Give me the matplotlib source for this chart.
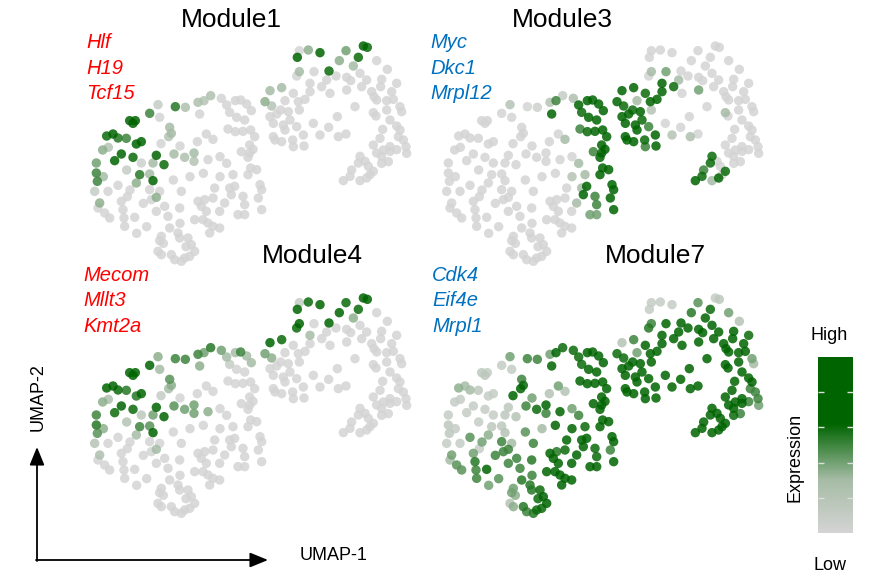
import numpy as np
import matplotlib
matplotlib.use('Agg')
import matplotlib.pyplot as plt
from matplotlib.colors import LinearSegmentedColormap, Normalize
from matplotlib.cm import ScalarMappable

plt.rcParams['font.family'] = ['Liberation Sans', 'DejaVu Sans']

# UMAP embedding of the cells (same layout in every panel)
umap_1 = [
    20.9, 23.4, 23.9, 28.6, 31.6, 35.4, 37.2, 39.2, 35.9, 42.4,
    44.0, 46.6, 48.2, 50.0, 51.4, 44.9, 47.0, 49.4, 14.9, 15.9,
    16.6, 26.9, 27.4, 26.6, 9.9, 8.0, 11.4, 13.9, 16.9, 18.4,
    37.9, 39.9, 44.4, 46.6, 48.9, 51.2, 35.2, 24.3, 30.0, 6.8,
    8.5, 12.4, 10.4, 4.9, 15.9, 22.9, 21.9, 25.2, 28.2, 31.4,
    34.2, 34.2, 38.4, 18.4, 4.9, 5.2, 4.4, 11.4, 17.9, 20.9,
    21.9, 16.9, 8.4, 20.9, 23.9, 22.9, 21.4, 5.9, 5.4, 7.4,
    8.9, 12.4, 14.2, 12.9, 13.2, 13.4, 16.4, 25.4, 26.4, 22.9,
    29.9, 30.4, 26.9, 24.4, 23.9, 23.4, 24.4, 29.4, 29.9, 32.4,
    33.4, 27.4, 28.4, 30.4, 31.4, 32.9, 34.4, 31.8, 35.4, 37.4,
    36.4, 34.4, 36.9, 38.4, 39.9, 41.9, 38.9, 37.9, 41.9, 43.4,
    45.4, 46.4, 45.9, 44.9, 40.4, 39.9, 48.9, 49.4, 47.4, 49.4,
    50.9, 51.2, 50.4, 53.0, 54.0, 54.5, 53.5, 54.5, 52.4, 50.9,
    51.9, 48.4, 50.4, 65.8, 68.5, 72.0, 65.2, 79.8, 85.0, 86.2,
    83.5, 77.8, 82.0, 89.0, 65.8, 65.0, 70.2, 74.7, 76.8, 80.0,
    81.2, 84.0, 92.2, 69.0, 72.5, 75.0, 80.0, 84.5, 90.5, 90.2,
    87.5, 88.2, 89.0, 93.5, 94.0, 92.0, 57.0, 60.5, 55.5, 57.5,
    61.5, 65.5, 67.5, 65.8, 82.5, 88.0, 88.8, 96.0, 96.5, 77.2,
    57.0, 59.0, 60.2, 63.0, 58.0, 61.0, 61.5, 74.6, 72.0, 77.5,
    79.8, 67.0, 90.8, 95.0, 58.0, 58.5, 60.5, 63.8, 64.0, 67.2,
    91.0, 93.0, 97.0, 97.8, 98.0, 84.0, 85.5, 83.5, 86.5, 89.0,
    90.5, 93.0, 95.0, 88.0, 87.0, 86.0, 84.0, 81.0, 79.0,
    74.0, 69.0, 86.0, 95.0, 92.0, 93.0, 96.0, 95.5, 90.0, 88.0,
    81.5, 90.5, 92.5, 64.0, 62.5, 65.0, 70.0, 14.0, 7.0, 15.0,
    19.0, 28.0, 33.0, 37.0, 42.0, 42.0, 44.0, 30.0, 20.0, 25.0,
    17.0,
]
umap_2 = [
    -25.0, -22.4, -26.2, -23.0, -23.2, -21.7, -21.2, -19.7, -25.2, -20.5,
    -22.5, -21.2, -21.0, -22.2, -24.2, -24.7, -26.2, -27.0, -27.2, -28.0,
    -27.2, -29.2, -31.0, -32.0, -31.2, -31.8, -32.4, -32.5, -34.2, -33.5,
    -31.2, -32.8, -29.7, -30.5, -30.4, -30.0, -33.5, -34.1, -34.8, -36.0,
    -35.2, -37.2, -39.2, -39.9, -38.2, -37.6, -39.9, -40.4, -37.2, -38.2,
    -36.9, -39.4, -38.9, -39.9, -42.9, -45.4, -48.4, -46.6, -43.4, -43.2,
    -45.2, -45.9, -48.4, -47.9, -48.4, -50.2, -50.9, -51.9, -53.4, -54.9,
    -56.4, -51.4, -50.0, -53.9, -56.4, -58.9, -56.2, -52.9, -55.9, -54.4,
    -53.4, -48.4, -59.4, -61.9, -63.2, -66.4, -67.4, -60.9, -62.4, -62.4,
    -64.4, -67.4, -68.9, -69.4, -68.4, -67.9, -66.4, -65.0, -51.4, -50.9,
    -52.9, -56.9, -56.9, -57.9, -58.9, -59.4, -60.9, -54.4, -54.4, -51.9,
    -49.4, -46.9, -43.4, -47.4, -47.4, -50.4, -49.9, -52.4, -55.4, -55.4,
    -36.9, -41.4, -43.4, -41.9, -46.4, -47.9, -50.4, -53.9, -32.0, -34.5,
    -35.8, -36.5, -38.2, -6.2, -6.0, -6.8, -8.2, -6.2, -4.8, -5.2,
    -8.2, -9.2, -10.8, -9.2, -12.5, -13.8, -12.5, -12.3, -13.8, -14.2,
    -15.2, -13.0, -11.8, -16.0, -17.0, -19.0, -18.0, -17.0, -14.8, -17.0,
    -18.5, -20.0, -21.0, -18.5, -20.8, -21.2, -18.2, -17.3, -21.5, -22.8,
    -21.2, -21.5, -20.8, -24.0, -23.0, -24.8, -25.8, -23.0, -24.5, -26.0,
    -26.0, -25.2, -24.0, -27.0, -28.0, -28.5, -30.0, -29.2, -31.5, -32.0,
    -31.2, -31.5, -29.8, -28.8, -32.0, -33.0, -33.5, -33.0, -35.0, -34.8,
    -36.0, -35.0, -33.0, -35.0, -37.0, -37.9, -39.4, -39.9, -40.9, -36.9,
    -37.9, -36.4, -35.9, -42.4, -43.4, -44.4, -45.2, -43.9, -45.2,
    -15.0, -18.5, -15.0, -16.0, -24.0, -27.0, -30.0, -32.0, -32.5, -34.5,
    -42.0, -40.0, -39.5, -19.0, -24.5, -29.0, -28.0, -42.0, -44.0, -48.0,
    -52.0, -45.0, -44.0, -43.0, -44.0, -38.0, -40.0, -58.0, -59.0, -64.0,
    -61.0,
]

# scaled module expression per cell (0 = low, 1 = high)
module1 = [
    .5, .1, 0, .55, .25, .25, .2, .25, 0, 0,
    0, 0, 0, 0, 0, 0, 0, 0, 1, 1,
    .9, .3, .3, .2, 1, .6, .55, .5, 1, .95,
    0, 0, 0, 0, 0, 0, 0, 0, 0, .35,
    .2, 1, .9, .4, .6, 1, .3, .6, .3, .25,
    .3, .2, 0, .05, .5, .5, .1, 0, .55, .3,
    .8, .35, 0, 0, 0, .35, 0, .35, 0, 0,
    0, 0, 0, 0, 0, 0, 0, 0, 0, 0,
    0, 0, 0, 0, 0, 0, 0, 0, 0, 0,
    0, 0, 0, 0, 0, 0, 0, 0, 0, 0,
    0, 0, 0, 0, 0, 0, 0, 0, 0, 0,
    0, 0, 0, 0, 0, 0, 0, 0, 0, 0,
    0, 0, 0, 0, 0, 0, 0, 0, 0, 0,
    0, 0, 0, 0, .35, .85, .8, .4, .95, .6,
    .6, .35, .3, 0, .3, 0, 0, .6, 0, 0,
    0, 0, 0, 0, 0, 0, 0, 0, 0, 0,
    0, 0, 0, 0, 0, 0, .3, .3, .35, .2,
    0, 0, 0, 0, 0, 0, 0, 0, 0, 0,
    0, 0, 0, 0, 0, 0, 0, 0, 0, 0,
    0, 0, 0, 0, 0, 0, 0, 0, 0, 0,
    0, 0, 0, 0, 0, 0, 0, 0, 0, 0,
    0, 0, 0, 0, 0, 0, 0, 0, 0,
    0, 0, 0, 0, 0, 0, 0, 0, 0, 0,
    0, 0, 0, 0, 0, 0, 0, .1, .3, 0,
    0, 0, 0, 0, 0, 0, 0, 0, 0, 0,
    0,
]
module3 = [
    0, .2, 0, 0, .05, .2, .5, .1, .9, .25,
    .9, .9, .9, .9, .9, .6, .9, .9, 0, 0,
    0, 0, 0, 0, 0, 0, 0, 0, 0, 0,
    0, .3, .5, .6, .9, .9, 0, 0, 0, 0,
    0, 0, 0, 0, 0, 0, 0, 0, 0, 0,
    0, 0, 0, 0, 0, 0, 0, 0, 0, 0,
    0, 0, 0, 0, 0, 0, 0, 0, 0, 0,
    0, 0, 0, 0, 0, 0, 0, 0, 0, 0,
    0, 0, 0, 0, 0, 0, 0, 0, 0, 0,
    0, 0, 0, 0, 0, 0, 0, 0, 0, 0,
    0, 0, 0, 0, 0, 0, 0, 0, 0, .3,
    .9, .9, .3, .3, 0, 0, .5, .5, .4, .4,
    .9, .9, .9, 1, 1, .9, .8, 1, 1, 1,
    1, .5, 1, 0, 0, 0, 0, 0, 0, 0,
    0, 0, 0, 0, .3, 0, .4, 0, 0, 0,
    0, 0, 0, 1, .6, 0, .4, 0, 0, 0,
    0, 0, 0, 0, 0, 0, .9, 1, .9, .6,
    .3, .9, .9, .2, 0, .3, 0, 0, 0, 0,
    1, 1, .6, .6, 1, 1, .9, 0, .2, .25,
    0, 1, 0, 0, 1, .9, .8, .6, .5, .9,
    0, 0, 0, 0, 0, .6, 0, .6, 0, 0,
    0, 0, 0, .6, 0, .95, .3, .6, 1,
    .3, .9, 0, 0, 0, 0, 0, 0, 0, 0,
    .5, 0, 0, .6, .9, .5, 0, 0, 0, 0,
    0, 0, 0, 0, .2, 0, .3, 0, 0, 0,
    0,
]
module4 = [
    .8, .35, .3, .5, .5, .5, .4, .55, .35, .4,
    .3, .3, .5, .3, .3, .1, 0, 0, 1, .9,
    .9, .45, .35, .3, 1, .9, .6, .55, .55, .9,
    0, 0, 0, 0, 0, 0, 0, .1, 0, .35,
    .25, .7, .6, .5, .6, 1, .4, .85, .45, .4,
    .4, .4, .35, .15, .55, .45, .2, 0, .5, .45,
    .7, .3, 0, 0, 0, .3, 0, .25, 0, 0,
    0, 0, 0, 0, 0, 0, 0, 0, 0, 0,
    0, 0, 0, 0, 0, 0, 0, 0, 0, 0,
    0, 0, 0, 0, 0, 0, 0, 0, 0, 0,
    0, 0, 0, 0, 0, 0, 0, 0, 0, 0,
    0, 0, 0, 0, 0, 0, 0, 0, 0, 0,
    0, 0, 0, 0, 0, 0, 0, 0, 0, 0,
    0, 0, 0, .1, .6, .9, .95, .6, .95, .7,
    .6, .9, .35, 0, .7, .6, 0, .7, 0, 0,
    0, 0, 0, .3, 0, 0, 0, 0, 0, 0,
    0, 0, 0, 0, 0, 0, .85, .6, .4, .35,
    0, 0, 0, 0, 0, 0, 0, 0, 0, 0,
    0, 0, 0, 0, 0, 0, 0, 0, 0, 0,
    0, 0, 0, 0, 0, 0, 0, 0, 0, 0,
    0, 0, 0, 0, 0, 0, 0, 0, 0, 0,
    0, 0, 0, 0, 0, 0, 0, 0, 0,
    0, 0, 0, 0, 0, 0, 0, 0, 0, 0,
    0, 0, 0, 0, 0, 0, 0, .2, .35, 0,
    0, 0, 0, 0, 0, 0, 0, 0, 0, 0,
    0,
]
module7 = [
    .1, .4, .1, .5, .5, .4, .7, .6, 1, .6,
    .6, 1, .9, .9, .9, .6, .7, .9, .15, .15,
    .1, .5, .6, .85, .3, .35, .3, .15, .1, .1,
    .4, .2, .8, 1, .9, .9, .2, .85, .4, .1,
    .1, .1, .1, .1, .1, .15, .15, .2, .5, .6,
    .9, .5, 1, .1, .15, .15, .1, .45, .15, .15,
    .2, .35, .1, .5, .3, .5, .5, .4, .3, .45,
    .45, .4, .1, .55, .5, .5, 1, .5, .5, .5,
    .55, .5, .55, .4, .4, .2, .35, .55, .55, .6,
    1, .55, .5, .55, .6, .6, 1, .6, .9, .55,
    .9, .9, 1, 1, 1, 1, 1, .9, .95, 1,
    1, 1, .6, 1, 1, .6, .6, .6, 1, 1,
    .95, .9, .95, 1, 1, .9, .5, 1, .9, 1,
    .9, .9, 1, .1, .1, .1, .1, .45, .1, .15,
    .6, .55, .9, .4, .5, .55, .9, .8, .9, .9,
    .9, .9, .2, 1, .9, .9, 1, .9, .7, .9,
    .9, 1, .9, 1, .9, .9, .2, .5, .6, .6,
    .4, 1, 1, .7, 1, 1, 1, .4, .3, 1,
    1, 1, 1, 1, 1, 1, .9, 1, 1, 1,
    1, 1, 1, 1, 1, 1, .9, 1, 1, 1,
    1, 1, .5, .5, .4, 1, 1, 1, 1, 1,
    1, 1, .5, 1, 1, 1, 1, 1, 1,
    .9, 1, .9, .6, .9, 1, .7, .5, 1, 1,
    1, .6, .5, .9, 1, .9, 1, .1, .1, .4,
    .5, .45, .3, .9, .9, .4, .5, .5, .45, .35,
    .4,
]

module_names = ["Module1", "Module3", "Module4", "Module7"]
module_genes = [["Hlf", "H19", "Tcf15"], ["Myc", "Dkc1", "Mrpl12"],
                ["Mecom", "Mllt3", "Kmt2a"], ["Cdk4", "Eif4e", "Mrpl1"]]
gene_colors = ["#ff0000", "#0070c0", "#ff0000", "#0070c0"]

x = np.array(umap_1)
y = np.array(umap_2)
scores = [np.array(m) for m in (module1, module3, module4, module7)]

W, H = 872, 578
fig = plt.figure(figsize=(W / 100, H / 100), dpi=100)
cmap = LinearSegmentedColormap.from_list(
    "expr", [(0, "#d4d4d4"), (0.3, "#a6bca6"), (0.62, "#006400"),
             (1, "#006400")])

# canvas in pixel units for arrows and labels
canvas = fig.add_axes([0, 0, 1, 1])
canvas.set_xlim(0, W)
canvas.set_ylim(H, 0)
canvas.axis("off")


def px_box(x0, y0, x1, y1):
    return [x0 / W, 1 - y1 / H, (x1 - x0) / W, (y1 - y0) / H]


# panel origin (px), title centre and baseline, gene label start
origins = [(80, 30), (432, 30), (80, 282), (432, 282)]
title_pos = [(231, 27), (562, 27), (312, 263), (655, 263)]
gene_pos = [(86, 48), (430, 48), (83, 281), (432, 281)]

for k in range(4):
    ox, oy = origins[k]
    ax = fig.add_axes(px_box(ox, oy, ox + 340, oy + 240))
    ax.set_xlim(0, 102)
    ax.set_ylim(-72, 0)
    ax.axis("off")
    v = scores[k]
    order = np.argsort(v, kind="stable")
    ax.scatter(x[order], y[order], c=v[order], cmap=cmap, vmin=0, vmax=1,
               s=46, alpha=0.85, linewidths=0)

    tx, ty = title_pos[k]
    canvas.text(tx, ty, module_names[k], ha="center", va="baseline",
                fontsize=19)
    gx, gy = gene_pos[k]
    for i, g in enumerate(module_genes[k]):
        canvas.text(gx, gy + 25.5 * i, g, ha="left", va="baseline",
                    fontsize=14.5, style="italic", color=gene_colors[k])

# UMAP axis arrows
head = dict(arrowstyle="-|>,head_length=1.1,head_width=0.45", color="black",
            lw=1.3, shrinkA=0, shrinkB=0)
canvas.annotate("", xy=(37, 447), xytext=(37, 561), arrowprops=head)
canvas.annotate("", xy=(268, 560), xytext=(36, 560), arrowprops=head)
canvas.text(38, 397, "UMAP-2", rotation=90, ha="center", va="center",
            fontsize=13)
canvas.text(334, 556, "UMAP-1", ha="center", va="center", fontsize=13)

# expression colour bar
cax = fig.add_axes(px_box(818, 357, 853, 533))
cb = fig.colorbar(ScalarMappable(norm=Normalize(0, 1), cmap=cmap), cax=cax,
                  ticks=[0.2, 0.4, 0.6, 0.8])
cb.outline.set_visible(False)
cax.tick_params(direction="in", length=4, width=1, colors="#dddddd",
                left=True, right=True, labelleft=False, labelright=False)
canvas.text(829, 335, "High", ha="center", va="center", fontsize=13)
canvas.text(830, 565, "Low", ha="center", va="center", fontsize=13)
canvas.text(795, 457, "Expression", rotation=90, ha="center", va="center",
            fontsize=13)

fig.savefig("out.png", dpi=100)
